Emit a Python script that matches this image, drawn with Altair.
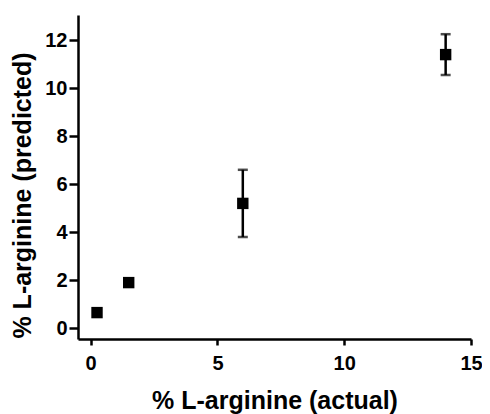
import altair as alt
import pandas as pd

actual = [0.25, 1.5, 6.0, 14.0]
predicted = [0.65, 1.9, 5.2, 11.4]
err_low = [0.55, 1.75, 3.8, 10.55]
err_high = [0.75, 2.05, 6.6, 12.25]
y_tick_values = list(range(0, 14))
x_tick_values = [0, 5, 10, 15]

df = pd.DataFrame({"actual": actual, "predicted": predicted,
                   "lo": err_low, "hi": err_high})

FONT = "Liberation Sans"

xscale = alt.Scale(domain=[-0.5, 15], nice=False, zero=False)
yscale = alt.Scale(domain=[-0.45, 13.05], nice=False, zero=False)

xaxis = alt.Axis(values=x_tick_values, title="% L-arginine (actual)",
                 grid=False, domainColor="black", domainWidth=2.5,
                 tickColor="black", tickWidth=2.5, tickSize=6,
                 labelFont=FONT, labelFontSize=20, labelFontWeight="bold",
                 labelColor="black", labelPadding=8, labelFlush=False,
                 titleFont=FONT, titleFontSize=25, titleFontWeight="bold",
                 titleColor="black", titlePadding=15)
yaxis = alt.Axis(values=y_tick_values, title="% L-arginine (predicted)",
                 labelExpr="datum.value % 2 === 0 ? datum.label : ''",
                 grid=False, domainColor="black", domainWidth=2.5,
                 tickColor="black", tickWidth=2.5,
                 tickSize={"condition": {"test": "datum.value % 2 === 1", "value": 5}, "value": 9},
                 labelFont=FONT, labelFontSize=20, labelFontWeight="bold",
                 labelColor="black", labelPadding=2, labelFlush=False,
                 titleFont=FONT, titleFontSize=25, titleFontWeight="bold",
                 titleColor="black", titlePadding=9, titleY=180)

base = alt.Chart(df)

err = base.mark_rule(color="black", strokeWidth=2.5).encode(
    x=alt.X("actual:Q", scale=xscale, axis=xaxis),
    y=alt.Y("lo:Q", scale=yscale, axis=yaxis),
    y2="hi:Q",
)
cap_top = base.mark_tick(color="black", orient="horizontal", size=10, thickness=2.5).encode(
    x="actual:Q", y="hi:Q")
cap_bot = base.mark_tick(color="black", orient="horizontal", size=10, thickness=2.5).encode(
    x="actual:Q", y="lo:Q")
pts = base.mark_square(color="black", filled=True, size=130, opacity=1).encode(
    x="actual:Q", y="predicted:Q")

chart = alt.layer(err, cap_top, cap_bot, pts).properties(
    width=393, height=324,
    autosize=alt.AutoSizeParams(type="none"),
    padding={"left": 70, "top": 7, "right": 11, "bottom": 75},
).configure_view(stroke=None)

chart.save("out.html", embed_options={"renderer": "svg", "actions": False})
